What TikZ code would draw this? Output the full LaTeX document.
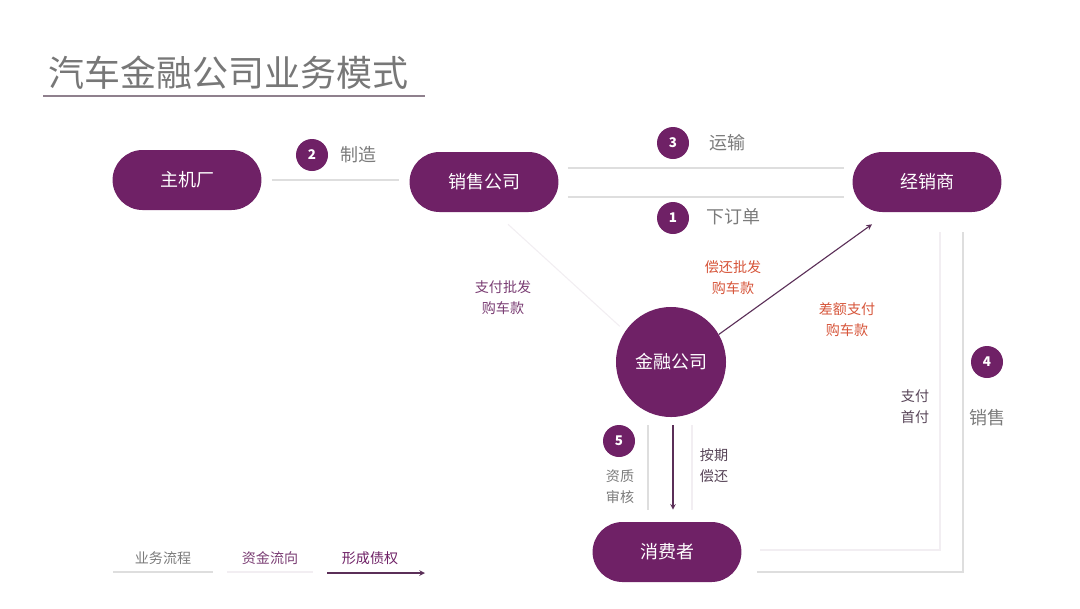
\documentclass[tikz,border=0pt]{standalone}
\usepackage{fontspec}
\setmainfont{Noto Sans CJK SC}
\usetikzlibrary{calc}

\definecolor{bizpurple}{HTML}{6F2166}
\definecolor{titlegray}{HTML}{777777}
\definecolor{titleline}{HTML}{8F808D}
\definecolor{bizgray}{HTML}{DEDEDE}
\definecolor{fundgray}{HTML}{F2EEF2}
\definecolor{debtpurple}{HTML}{5B2F58}
\definecolor{redlabel}{HTML}{D6553A}
\definecolor{flowgray}{HTML}{7B7B7B}
\definecolor{darklabel}{HTML}{574457}
\definecolor{purplelabel}{HTML}{7A3D73}

\tikzset{
  pill/.style={rectangle, rounded corners=0.75cm, fill=bizpurple, text=white,
    minimum width=3.72cm, minimum height=1.5cm, inner sep=0pt,
    font=\fontsize{12.8}{15}\selectfont},
  bigcirc/.style={circle, fill=bizpurple, text=white, minimum size=2.75cm,
    inner sep=0pt, font=\fontsize{12.8}{15}\selectfont},
  numbadge/.style={circle, fill=bizpurple, text=white, minimum size=0.8cm,
    inner sep=0pt, font=\fontsize{9.5}{10}\selectfont\bfseries},
  flowtext/.style={text=flowgray, inner sep=0pt, font=\fontsize{12.8}{15}\selectfont},
  smalltext/.style={inner sep=0pt, align=center, font=\fontsize{10}{15}\selectfont},
  bizline/.style={draw=bizgray, line width=0.8pt},
  fundline/.style={draw=fundgray, line width=0.8pt},
  debtline/.style={draw=debtpurple, line width=0.8pt, ->, >=stealth}
}

\begin{document}
\begin{tikzpicture}[x=0.025cm, y=-0.025cm]
  \useasboundingbox (0,0) rectangle (1080,608);

  % title
  \node[anchor=west, text=titlegray, inner sep=0pt, font=\fontsize{25.6}{30}\selectfont] (title) at (48,73) {汽车金融公司业务模式};
  \draw[titleline, line width=1pt] ($(title.west)+(-5,23)$) -- ($(title.east)+(16,23)$);

  % parties
  \node[pill] (zjc) at (187,180) {主机厂};
  \node[pill] (xsgs) at (484,182) {销售公司};
  \node[pill] (jxs) at (927,182) {经销商};
  \node[pill] (xfz) at (667,552) {消费者};
  \node[bigcirc] (jrgs) at (671,362) {金融公司};

  % business flow
  \draw[bizline] ($(zjc.east)+(10,0)$) -- ($(zjc.east -| xsgs.west)+(-10,0)$);
  \draw[bizline] ($(xsgs.east)+(9,-14)$) -- ($(jxs.west)+(-8,-14)$);
  \draw[bizline] ($(xsgs.east)+(9,15)$) -- ($(jxs.west)+(-8,15)$);
  \draw[bizline] ($(jxs.south)+(36,20)$) |- ($(xfz.east)+(15,20)$);
  \draw[bizline] ($(jrgs.south)+(-23,8)$) -- ($(xfz.north)+(-19,-12)$);

  % fund flow
  \draw[fundline] ($(xsgs.south)+(24,12)$) -- ($(jrgs.145)+(-6,-4)$);
  \draw[fundline] ($(jxs.south)+(13,20)$) |- ($(xfz.east)+(18,-2)$);
  \draw[fundline] ($(jrgs.south)+(21,8)$) -- ($(xfz.north)+(25,-12)$);

  % debt
  \draw[debtline] (jrgs.30) -- ($(jxs.south)+(-55,12)$);
  \draw[debtline] ($(jrgs.south)+(2,8)$) -- ($(xfz.north)+(6,-12)$);

  % steps
  \node[numbadge] (n2) at (312,155) {2};
  \node[flowtext, anchor=west] (t2) at (340,155) {制造};
  \node[numbadge] (n3) at (673,143) {3};
  \node[flowtext, anchor=west] (t3) at (709,143) {运输};
  \node[numbadge] (n1) at (673,218) {1};
  \node[flowtext, anchor=west] (t1) at (706,217) {下订单};
  \node[numbadge] (n4) at (987,362) {4};
  \node[flowtext] (t4) at (987,418) {销售};
  \node[numbadge] (n5) at (619,441) {5};
  \node[smalltext, text=flowgray] (t5) at (620,487) {资质\\审核};

  % money labels
  \node[smalltext, text=purplelabel] (pfk) at (503,298) {支付批发\\购车款};
  \node[smalltext, text=redlabel] (chk) at (733,278) {偿还批发\\购车款};
  \node[smalltext, text=redlabel] (cek) at (847,320) {差额支付\\购车款};
  \node[smalltext, text=darklabel] (sf) at (915,407) {支付\\首付};
  \node[smalltext, text=darklabel] (aq) at (714,466) {按期\\偿还};

  % legend
  \node[smalltext, text=flowgray] (lg1) at (163,558) {业务流程};
  \node[smalltext, text=purplelabel] (lg2) at (270,558) {资金流向};
  \node[smalltext, text=bizpurple] (lg3) at (370,558) {形成债权};
  \coordinate (l1a) at (113,572); \coordinate (l1b) at (213,572);
  \coordinate (l2a) at (227,572); \coordinate (l2b) at (313,572);
  \coordinate (l3a) at (327,573); \coordinate (l3b) at (425,573);
  \draw[bizline] (l1a) -- (l1b);
  \draw[fundline] (l2a) -- (l2b);
  \draw[debtline] (l3a) -- (l3b);
\end{tikzpicture}
\end{document}
